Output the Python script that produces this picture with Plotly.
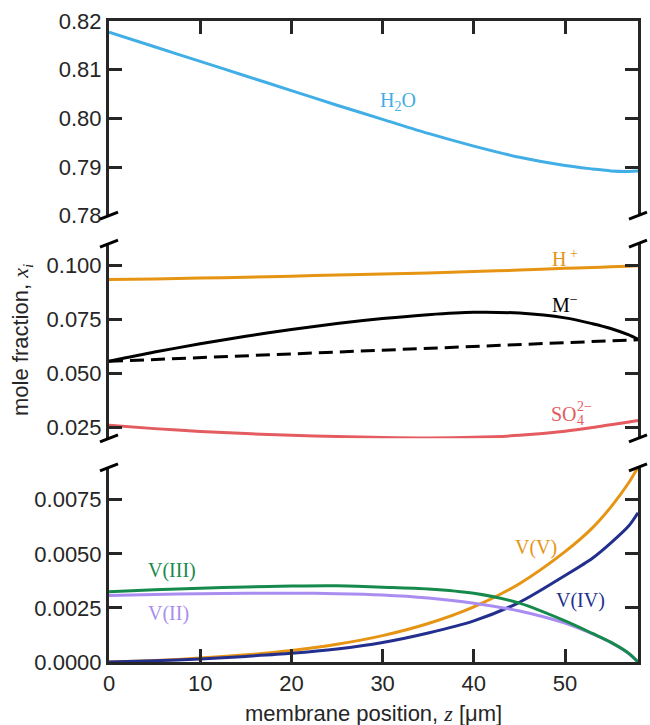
import plotly.graph_objects as go

# ---------------- data ----------------
z = [0, 5, 10, 15, 20, 25, 30, 35, 40, 45, 50, 53, 55, 57, 58]

h2o = [0.8177, 0.8147, 0.8117, 0.8087, 0.8057, 0.8027, 0.7998, 0.7969,
       0.7943, 0.7920, 0.7903, 0.7896, 0.7892, 0.7891, 0.7892]

h_plus = [0.0934, 0.0937, 0.0941, 0.0945, 0.0950, 0.0955, 0.0960, 0.0965,
          0.0971, 0.0978, 0.0986, 0.0990, 0.0993, 0.0996, 0.0998]

m_minus = [0.0556, 0.0599, 0.0637, 0.0672, 0.0703, 0.0731, 0.0754, 0.0772,
           0.0783, 0.0779, 0.0757, 0.0730, 0.0708, 0.0678, 0.0658]

z_dash = [0, 58]
m_minus_dash = [0.0556, 0.0656]

so4 = [0.0261, 0.0245, 0.0232, 0.0222, 0.0214, 0.0208, 0.0204, 0.0202,
       0.0205, 0.0214, 0.0233, 0.0250, 0.0263, 0.0276, 0.0283]

v_v = [0.0, 0.00007, 0.00018, 0.00033, 0.00053, 0.00082, 0.00122, 0.00178,
       0.00255, 0.00362, 0.00510, 0.00620, 0.00715, 0.00830, 0.00900]
v_iv = [0.0, 0.00006, 0.00014, 0.00026, 0.00040, 0.00060, 0.00090, 0.00134,
        0.00190, 0.00276, 0.00400, 0.00480, 0.00550, 0.00630, 0.00690]
v_iii = [0.00325, 0.00334, 0.00341, 0.00347, 0.00351, 0.00352, 0.00346, 0.00338,
         0.00318, 0.00272, 0.00190, 0.00132, 0.00092, 0.00040, 0.0]
v_ii = [0.00308, 0.00312, 0.00316, 0.00318, 0.00318, 0.00316, 0.00310, 0.00296,
        0.00272, 0.00236, 0.00180, 0.00130, 0.00090, 0.00038, 0.0]

x_ticks = [0, 10, 20, 30, 40, 50]
top_ticks = [0.78, 0.79, 0.80, 0.81, 0.82]
mid_ticks = [0.025, 0.050, 0.075, 0.100]
bot_ticks = [0.0, 0.0025, 0.0050, 0.0075]

# ---------------- style ----------------
C_BLUE = '#41AEE5'
C_ORANGE = '#E69414'
C_RED = '#E45B60'
C_GREEN = '#168A4C'
C_PURPLE = '#A98DF0'
C_NAVY = '#232F8E'
C_AX = '#262626'
LW = 3
SANS = 'Liberation Sans, Arial, sans-serif'
SERIF = 'Liberation Serif, Times New Roman, serif'

fig = go.Figure()

def add(x, y, color, xa, ya, dash='solid'):
    fig.add_trace(go.Scatter(x=x, y=y, mode='lines', xaxis=xa, yaxis=ya,
                             line=dict(color=color, width=LW, dash=dash, shape='spline', smoothing=0.8),
                             showlegend=False, hoverinfo='skip'))

# top panel
add(z, h2o, C_BLUE, 'x3', 'y3')
# middle panel
add(z, h_plus, C_ORANGE, 'x2', 'y2')
add(z_dash, m_minus_dash, 'black', 'x2', 'y2', dash='14px,7px')
add(z, m_minus, 'black', 'x2', 'y2')
add(z, so4, C_RED, 'x2', 'y2')
# bottom panel
add(z, v_v, C_ORANGE, 'x', 'y')
add(z, v_iv, C_NAVY, 'x', 'y')
add(z, v_ii, C_PURPLE, 'x', 'y')
add(z, v_iii, C_GREEN, 'x', 'y')

tickfont = dict(family=SANS, size=22, color=C_AX)
yax_common = dict(showline=True, linewidth=LW, linecolor=C_AX, mirror='ticks',
                  ticks='inside', ticklen=13, tickwidth=LW, tickcolor=C_AX,
                  showgrid=False, zeroline=False, tickfont=tickfont)
xax_common = dict(range=[0, 58], showgrid=False, zeroline=False)

D_TOP = [0.6963, 1.0]
D_MID = [0.3489, 0.6526]
D_BOT = [0.0, 0.3037]

fig.update_layout(
    width=650, height=725,
    margin=dict(l=109, r=9, t=20, b=63),
    paper_bgcolor='white', plot_bgcolor='white',
    xaxis=dict(**xax_common, anchor='y', showline=True, linewidth=LW, linecolor=C_AX,
               ticks='inside', ticklen=13, tickwidth=LW, tickcolor=C_AX,
               tickvals=x_ticks, tickfont=tickfont, mirror=False),
    xaxis2=dict(**xax_common, anchor='y2', visible=False),
    xaxis3=dict(**xax_common, anchor='y3', side='top', showline=True, linewidth=LW,
                linecolor=C_AX, ticks='inside', ticklen=13, tickwidth=LW, tickcolor=C_AX,
                tickvals=x_ticks, showticklabels=False),
    yaxis=dict(**yax_common, domain=D_BOT, anchor='x', range=[0, 0.009],
               tickvals=bot_ticks, tickformat='.4f'),
    yaxis2=dict(**yax_common, domain=D_MID, anchor='x2', range=[0.02, 0.11],
                tickvals=mid_ticks, tickformat='.3f'),
    yaxis3=dict(**yax_common, domain=D_TOP, anchor='x3', range=[0.78, 0.82],
                tickvals=top_ticks, tickformat='.2f'),
)

# break marks
shapes = []
for xa in (0, 1):
    for ya in (D_TOP[0], D_MID[1], D_MID[0], D_BOT[1]):
        shapes.append(dict(type='line', xref='paper', yref='paper',
                           xsizemode='pixel', ysizemode='pixel',
                           xanchor=xa, yanchor=ya, x0=-9, x1=9, y0=-3.5, y1=3.5,
                           line=dict(color='black', width=3)))
fig.update_layout(shapes=shapes)

# axis titles
ann = []
ann.append(dict(xref='paper', yref='paper', x=0.5, y=-0.081, xanchor='center', yanchor='middle',
                text="membrane position, <span style='font-family:Liberation Serif'><i>z</i></span> [μm]",
                showarrow=False, font=dict(family=SANS, size=22, color=C_AX)))
ann.append(dict(xref='paper', yref='paper', x=-0.1635, y=0.5016, xanchor='center', yanchor='middle',
                textangle=-90,
                text="mole fraction, <span style='font-family:Liberation Serif'><i>x</i><sub><i>i</i></sub></span>",
                showarrow=False, font=dict(family=SANS, size=22, color=C_AX)))

def lab(text, x, y, xr, yr, color, size=20, xanchor='center'):
    ann.append(dict(xref=xr, yref=yr, x=x, y=y, text=text, showarrow=False,
                    xanchor=xanchor, yanchor='middle', borderpad=0,
                    font=dict(family=SERIF, size=size, color=color)))

lab('H<sub>2</sub>O', 31.7, 0.8035, 'x3', 'y3', C_BLUE)
lab('H<sup> +</sup>', 50.0, 0.1035, 'x2', 'y2', C_ORANGE)
lab('M<sup>−</sup>', 50.0, 0.0819, 'x2', 'y2', 'black')
lab('SO', 48.3, 0.0311, 'x2', 'y2', C_RED, xanchor='left')
lab('2−', 51.2, 0.0345, 'x2', 'y2', C_RED, size=14, xanchor='left')
lab('4', 51.2, 0.0283, 'x2', 'y2', C_RED, size=14, xanchor='left')
lab('V(V)', 46.8, 0.00531, 'x', 'y', C_ORANGE)
lab('V(IV)', 51.7, 0.00286, 'x', 'y', C_NAVY)
lab('V(III)', 6.9, 0.00425, 'x', 'y', C_GREEN)
lab('V(II)', 6.5, 0.00226, 'x', 'y', C_PURPLE)

fig.update_layout(annotations=ann)

fig.write_html("out.html")
